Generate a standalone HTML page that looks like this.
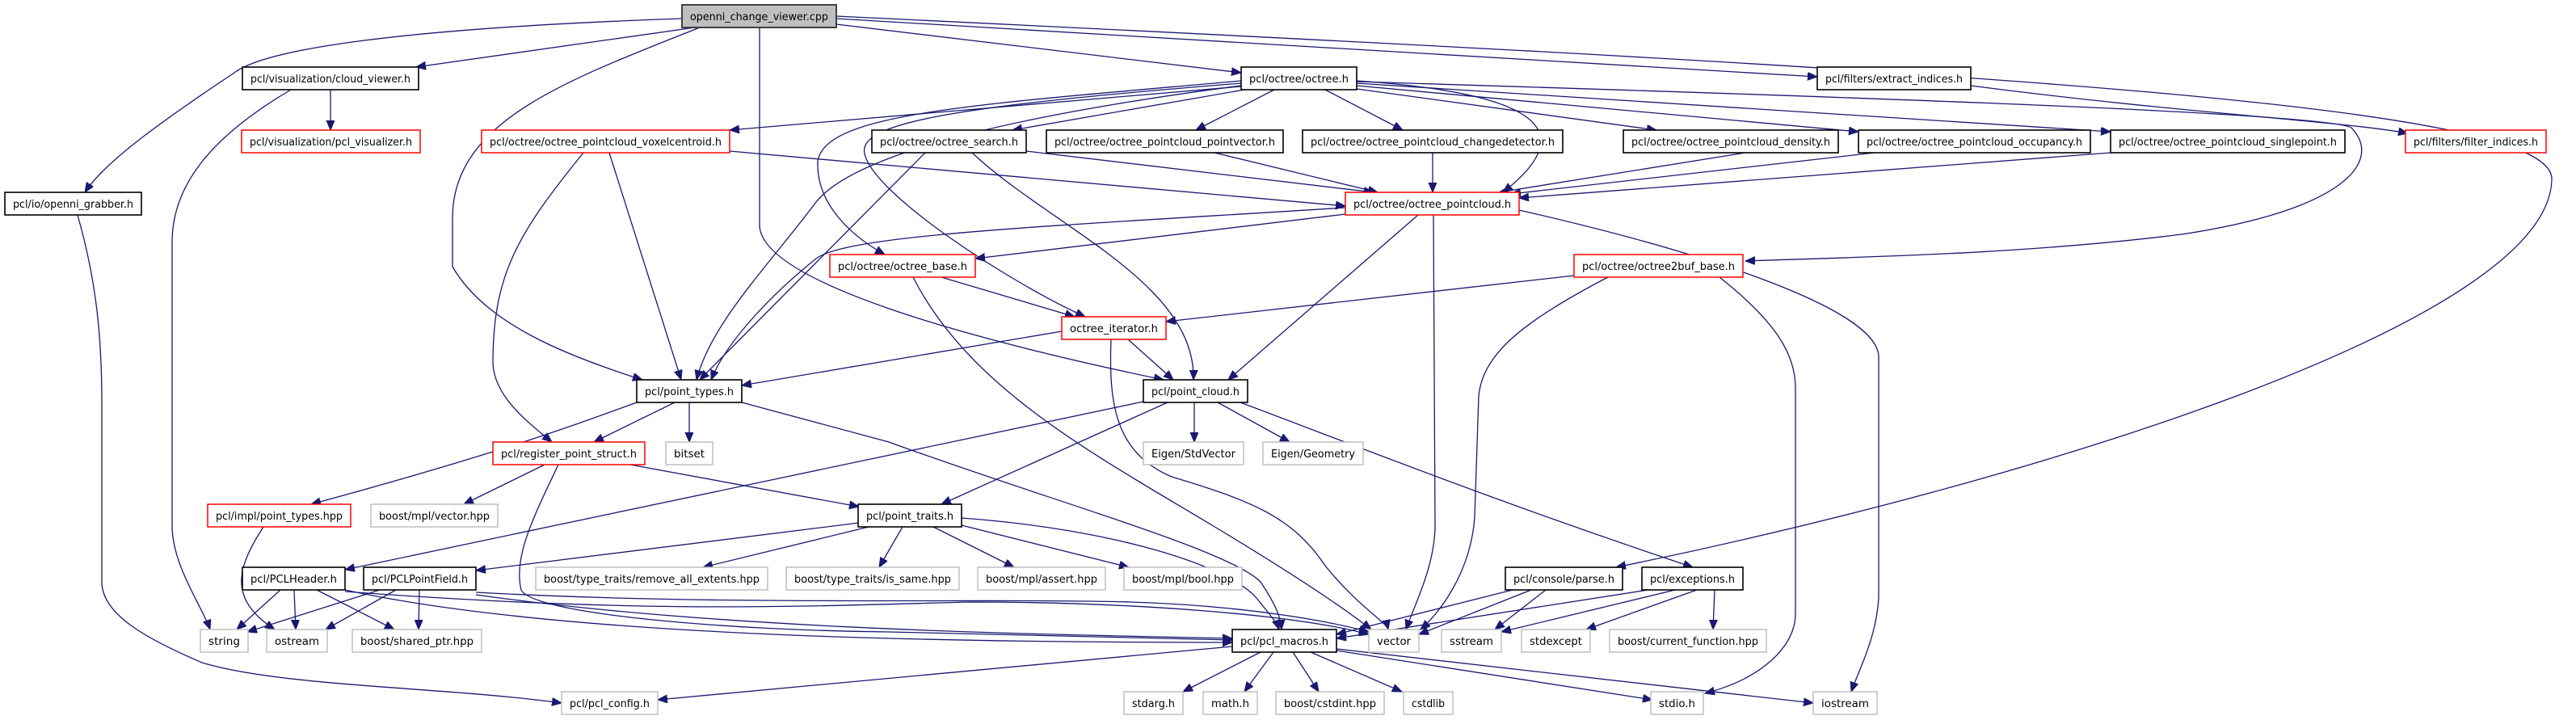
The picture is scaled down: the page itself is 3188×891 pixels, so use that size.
<!DOCTYPE html>
<html><head><meta charset="utf-8"><style>
html,body{margin:0;padding:0;background:#fff;}
svg{display:block;}
text{font-family:"DejaVu Sans","Liberation Sans",sans-serif;font-size:13.5px;fill:#000;}
.e{fill:none;stroke:#191970;stroke-width:1.3;marker-end:url(#a);}
.nb{fill:#fff;stroke:#000;stroke-width:1.6;}
.nr{fill:#fff;stroke:#ff0000;stroke-width:1.5;}
.ng{fill:#fff;stroke:#bfbfbf;stroke-width:1.5;}
</style></head><body>
<svg width="3188" height="891" viewBox="0 0 3188 891" xmlns="http://www.w3.org/2000/svg">
<defs><marker id="a" markerUnits="userSpaceOnUse" markerWidth="14" markerHeight="12" refX="12" refY="5" orient="auto"><path d="M0,0 L12,5 L0,10 z" fill="#191970" stroke="#191970"/></marker></defs>
<g>
<path class="e" d="M860,34 L515,83"/>
<path class="e" d="M844,23 C500,35 330,60 290,90 C200,150 130,200 105,238"/>
<path class="e" d="M866,34 C700,100 560,150 560,270 L560,330 C600,400 700,440 795,470"/>
<path class="e" d="M940,34 L940,280 C945,350 1200,420 1440,470"/>
<path class="e" d="M1035,30 L1536,90"/>
<path class="e" d="M1035,23 L2249,95"/>
<path class="e" d="M1035,20 C2500,90 3150,130 3158,220 C3160,400 2500,600 2000,702"/>
<path class="e" d="M2439,106 C2700,140 2900,150 2980,165"/>
<path class="e" d="M409,111 L409,161"/>
<path class="e" d="M360,111 C260,170 213,230 213,300 L213,650 C213,700 250,750 260,779"/>
<path class="e" d="M96,266 C120,350 126,420 126,500 L126,720 C126,760 180,790 250,820 C350,850 550,850 695,870"/>
<path class="e" d="M754,189 L843,470"/>
<path class="e" d="M722,189 C640,290 610,340 610,450 C612,490 650,520 683,547"/>
<path class="e" d="M903,187 L1665,255"/>
<path class="e" d="M1536,107 L903,161"/>
<path class="e" d="M1540,111 L1253,161"/>
<path class="e" d="M1577,111 L1480,161"/>
<path class="e" d="M1640,111 L1736,161"/>
<path class="e" d="M1679,110 L2050,161"/>
<path class="e" d="M1679,106 L2300,163"/>
<path class="e" d="M1679,103 L2612,163"/>
<path class="e" d="M1679,100 C1900,115 1960,160 1860,238"/>
<path class="e" d="M1679,101 C2300,120 2880,140 2910,158 C2950,200 2900,260 2700,290 C2500,315 2300,318 2160,323"/>
<path class="e" d="M1536,100 C1200,130 1020,140 1012,200 C1010,250 1050,290 1095,315"/>
<path class="e" d="M1536,103 C1200,130 1060,150 1070,190 C1080,240 1250,350 1343,392"/>
<path class="e" d="M1536,106 C1200,150 1050,200 1010,250 C950,330 880,400 862,470"/>
<path class="e" d="M1145,189 L866,470"/>
<path class="e" d="M1203,189 C1300,280 1480,350 1477,470"/>
<path class="e" d="M1270,187 L1700,238"/>
<path class="e" d="M1503,189 L1705,238"/>
<path class="e" d="M1773,189 L1773,238"/>
<path class="e" d="M2160,189 L1855,238"/>
<path class="e" d="M2320,189 L1870,240"/>
<path class="e" d="M2612,189 L1880,245"/>
<path class="e" d="M1665,257 C1300,280 1050,290 1010,320 C960,360 900,420 880,470"/>
<path class="e" d="M1665,265 L1207,320"/>
<path class="e" d="M1755,266 L1520,470"/>
<path class="e" d="M1774,266 L1776,650 C1776,700 1750,750 1740,779"/>
<path class="e" d="M1880,260 C2100,310 2320,380 2325,440 L2325,740 C2322,790 2300,830 2291,856"/>
<path class="e" d="M1165,343 L1330,392"/>
<path class="e" d="M1130,343 C1200,480 1350,560 1500,650 C1600,710 1660,750 1697,779"/>
<path class="e" d="M1948,341 L1443,398"/>
<path class="e" d="M1990,343 C1880,400 1835,440 1830,490 L1825,640 C1820,710 1780,760 1758,779"/>
<path class="e" d="M2128,343 C2200,400 2222,440 2222,480 L2222,760 C2222,800 2180,840 2110,858"/>
<path class="e" d="M1314,410 L918,477"/>
<path class="e" d="M1396,420 L1452,470"/>
<path class="e" d="M1375,420 C1372,500 1380,560 1450,590 C1550,620 1600,640 1640,700 C1680,750 1716,770 1718,779"/>
<path class="e" d="M835,498 L735,547"/>
<path class="e" d="M853,498 L853,547"/>
<path class="e" d="M788,498 C700,530 620,560 385,624"/>
<path class="e" d="M918,498 L1100,547 C1300,620 1520,680 1560,720 C1580,750 1585,765 1586,779"/>
<path class="e" d="M1415,497 L427,705"/>
<path class="e" d="M1445,498 L1165,624"/>
<path class="e" d="M1478,498 L1478,547"/>
<path class="e" d="M1507,498 L1596,547"/>
<path class="e" d="M1535,498 C1700,560 1850,620 2095,702"/>
<path class="e" d="M780,575 L1063,627"/>
<path class="e" d="M674,575 L574,624"/>
<path class="e" d="M691,575 C660,640 635,690 645,730 C660,760 900,780 1100,782 C1300,786 1450,790 1525,792"/>
<path class="e" d="M326,652 C295,700 280,740 340,779"/>
<path class="e" d="M1063,647 L589,706"/>
<path class="e" d="M1075,652 L870,702"/>
<path class="e" d="M1117,652 L1088,702"/>
<path class="e" d="M1155,652 L1255,702"/>
<path class="e" d="M1190,650 L1397,702"/>
<path class="e" d="M1190,641 C1380,655 1520,700 1555,740 C1575,765 1580,770 1583,779"/>
<path class="e" d="M347,730 L293,779"/>
<path class="e" d="M364,730 L366,779"/>
<path class="e" d="M392,730 L488,779"/>
<path class="e" d="M427,730 C700,790 1200,795 1525,795"/>
<path class="e" d="M427,732 C800,760 1000,750 1200,745 C1400,745 1600,760 1694,785"/>
<path class="e" d="M470,730 L306,782"/>
<path class="e" d="M490,730 L403,779"/>
<path class="e" d="M519,730 L518,779"/>
<path class="e" d="M589,736 C900,780 1300,785 1525,790"/>
<path class="e" d="M589,733 C900,750 1200,740 1400,745 C1550,750 1650,770 1694,782"/>
<path class="e" d="M1872,730 L1654,785"/>
<path class="e" d="M1895,730 L1756,785"/>
<path class="e" d="M1913,730 L1850,779"/>
<path class="e" d="M2040,730 L1654,790"/>
<path class="e" d="M2073,730 L1858,782"/>
<path class="e" d="M2100,730 L1963,779"/>
<path class="e" d="M2122,730 L2120,779"/>
<path class="e" d="M1560,807 L1464,856"/>
<path class="e" d="M1576,807 L1540,856"/>
<path class="e" d="M1600,807 L1632,856"/>
<path class="e" d="M1622,807 L1735,856"/>
<path class="e" d="M1654,805 L2045,866"/>
<path class="e" d="M1654,803 L2244,870"/>
<path class="e" d="M1525,800 L814,866"/>
</g>
<g>
<rect x="844" y="6" width="191" height="28" fill="#bfbfbf" stroke="#404040" stroke-width="2"/><text x="939.5" y="25" text-anchor="middle" textLength="171" lengthAdjust="spacingAndGlyphs">openni_change_viewer.cpp</text>
<rect class="nb" x="300" y="83" width="218" height="28"/><text x="409" y="102" text-anchor="middle" textLength="198" lengthAdjust="spacingAndGlyphs">pcl/visualization/cloud_viewer.h</text>
<rect class="nr" x="299" y="161" width="221" height="28"/><text x="409.5" y="180" text-anchor="middle" textLength="201" lengthAdjust="spacingAndGlyphs">pcl/visualization/pcl_visualizer.h</text>
<rect class="nr" x="596" y="161" width="307" height="28"/><text x="749.5" y="180" text-anchor="middle" textLength="287" lengthAdjust="spacingAndGlyphs">pcl/octree/octree_pointcloud_voxelcentroid.h</text>
<rect class="nb" x="6" y="238" width="169" height="28"/><text x="90.5" y="257" text-anchor="middle" textLength="149" lengthAdjust="spacingAndGlyphs">pcl/io/openni_grabber.h</text>
<rect class="nb" x="1536" y="83" width="143" height="28"/><text x="1607.5" y="102" text-anchor="middle" textLength="123" lengthAdjust="spacingAndGlyphs">pcl/octree/octree.h</text>
<rect class="nb" x="2249" y="83" width="190" height="28"/><text x="2344" y="102" text-anchor="middle" textLength="170" lengthAdjust="spacingAndGlyphs">pcl/filters/extract_indices.h</text>
<rect class="nb" x="1079" y="161" width="191" height="28"/><text x="1174.5" y="180" text-anchor="middle" textLength="171" lengthAdjust="spacingAndGlyphs">pcl/octree/octree_search.h</text>
<rect class="nb" x="1295" y="161" width="293" height="28"/><text x="1441.5" y="180" text-anchor="middle" textLength="273" lengthAdjust="spacingAndGlyphs">pcl/octree/octree_pointcloud_pointvector.h</text>
<rect class="nb" x="1612" y="161" width="322" height="28"/><text x="1773" y="180" text-anchor="middle" textLength="302" lengthAdjust="spacingAndGlyphs">pcl/octree/octree_pointcloud_changedetector.h</text>
<rect class="nb" x="2009" y="161" width="266" height="28"/><text x="2142" y="180" text-anchor="middle" textLength="246" lengthAdjust="spacingAndGlyphs">pcl/octree/octree_pointcloud_density.h</text>
<rect class="nb" x="2300" y="161" width="287" height="28"/><text x="2443.5" y="180" text-anchor="middle" textLength="267" lengthAdjust="spacingAndGlyphs">pcl/octree/octree_pointcloud_occupancy.h</text>
<rect class="nb" x="2612" y="161" width="290" height="28"/><text x="2757" y="180" text-anchor="middle" textLength="270" lengthAdjust="spacingAndGlyphs">pcl/octree/octree_pointcloud_singlepoint.h</text>
<rect class="nr" x="2977" y="161" width="174" height="28"/><text x="3064" y="180" text-anchor="middle" textLength="154" lengthAdjust="spacingAndGlyphs">pcl/filters/filter_indices.h</text>
<rect class="nr" x="1665" y="238" width="215" height="28"/><text x="1772.5" y="257" text-anchor="middle" textLength="195" lengthAdjust="spacingAndGlyphs">pcl/octree/octree_pointcloud.h</text>
<rect class="nr" x="1027" y="315" width="180" height="28"/><text x="1117" y="334" text-anchor="middle" textLength="160" lengthAdjust="spacingAndGlyphs">pcl/octree/octree_base.h</text>
<rect class="nr" x="1948" y="315" width="209" height="28"/><text x="2052.5" y="334" text-anchor="middle" textLength="189" lengthAdjust="spacingAndGlyphs">pcl/octree/octree2buf_base.h</text>
<rect class="nr" x="1314" y="392" width="129" height="28"/><text x="1378.5" y="411" text-anchor="middle" textLength="109" lengthAdjust="spacingAndGlyphs">octree_iterator.h</text>
<rect class="nb" x="788" y="470" width="130" height="28"/><text x="853" y="489" text-anchor="middle" textLength="110" lengthAdjust="spacingAndGlyphs">pcl/point_types.h</text>
<rect class="nb" x="1415" y="470" width="129" height="28"/><text x="1479.5" y="489" text-anchor="middle" textLength="109" lengthAdjust="spacingAndGlyphs">pcl/point_cloud.h</text>
<rect class="nr" x="610" y="547" width="188" height="28"/><text x="704" y="566" text-anchor="middle" textLength="168" lengthAdjust="spacingAndGlyphs">pcl/register_point_struct.h</text>
<rect class="ng" x="824" y="547" width="58" height="28"/><text x="853" y="566" text-anchor="middle" textLength="38" lengthAdjust="spacingAndGlyphs">bitset</text>
<rect class="ng" x="1415" y="547" width="124" height="28"/><text x="1477" y="566" text-anchor="middle" textLength="104" lengthAdjust="spacingAndGlyphs">Eigen/StdVector</text>
<rect class="ng" x="1563" y="547" width="124" height="28"/><text x="1625" y="566" text-anchor="middle" textLength="104" lengthAdjust="spacingAndGlyphs">Eigen/Geometry</text>
<rect class="nr" x="257" y="624" width="177" height="28"/><text x="345.5" y="643" text-anchor="middle" textLength="157" lengthAdjust="spacingAndGlyphs">pcl/impl/point_types.hpp</text>
<rect class="ng" x="459" y="624" width="157" height="28"/><text x="537.5" y="643" text-anchor="middle" textLength="137" lengthAdjust="spacingAndGlyphs">boost/mpl/vector.hpp</text>
<rect class="nb" x="1062" y="624" width="128" height="28"/><text x="1126" y="643" text-anchor="middle" textLength="108" lengthAdjust="spacingAndGlyphs">pcl/point_traits.h</text>
<rect class="nb" x="300" y="702" width="127" height="28"/><text x="363.5" y="721" text-anchor="middle" textLength="107" lengthAdjust="spacingAndGlyphs">pcl/PCLHeader.h</text>
<rect class="nb" x="450" y="702" width="139" height="28"/><text x="519.5" y="721" text-anchor="middle" textLength="119" lengthAdjust="spacingAndGlyphs">pcl/PCLPointField.h</text>
<rect class="ng" x="663" y="702" width="287" height="28"/><text x="806.5" y="721" text-anchor="middle" textLength="267" lengthAdjust="spacingAndGlyphs">boost/type_traits/remove_all_extents.hpp</text>
<rect class="ng" x="973" y="702" width="214" height="28"/><text x="1080" y="721" text-anchor="middle" textLength="194" lengthAdjust="spacingAndGlyphs">boost/type_traits/is_same.hpp</text>
<rect class="ng" x="1210" y="702" width="158" height="28"/><text x="1289" y="721" text-anchor="middle" textLength="138" lengthAdjust="spacingAndGlyphs">boost/mpl/assert.hpp</text>
<rect class="ng" x="1391" y="702" width="146" height="28"/><text x="1464" y="721" text-anchor="middle" textLength="126" lengthAdjust="spacingAndGlyphs">boost/mpl/bool.hpp</text>
<rect class="nb" x="1863" y="702" width="145" height="28"/><text x="1935.5" y="721" text-anchor="middle" textLength="125" lengthAdjust="spacingAndGlyphs">pcl/console/parse.h</text>
<rect class="nb" x="2032" y="702" width="125" height="28"/><text x="2094.5" y="721" text-anchor="middle" textLength="105" lengthAdjust="spacingAndGlyphs">pcl/exceptions.h</text>
<rect class="ng" x="248" y="779" width="59" height="28"/><text x="277.5" y="798" text-anchor="middle" textLength="39" lengthAdjust="spacingAndGlyphs">string</text>
<rect class="ng" x="330" y="779" width="75" height="28"/><text x="367.5" y="798" text-anchor="middle" textLength="55" lengthAdjust="spacingAndGlyphs">ostream</text>
<rect class="ng" x="436" y="779" width="160" height="28"/><text x="516" y="798" text-anchor="middle" textLength="140" lengthAdjust="spacingAndGlyphs">boost/shared_ptr.hpp</text>
<rect class="nb" x="1525" y="779" width="129" height="28"/><text x="1589.5" y="798" text-anchor="middle" textLength="109" lengthAdjust="spacingAndGlyphs">pcl/pcl_macros.h</text>
<rect class="ng" x="1694" y="779" width="62" height="28"/><text x="1725" y="798" text-anchor="middle" textLength="42" lengthAdjust="spacingAndGlyphs">vector</text>
<rect class="ng" x="1784" y="779" width="74" height="28"/><text x="1821" y="798" text-anchor="middle" textLength="54" lengthAdjust="spacingAndGlyphs">sstream</text>
<rect class="ng" x="1883" y="779" width="85" height="28"/><text x="1925.5" y="798" text-anchor="middle" textLength="65" lengthAdjust="spacingAndGlyphs">stdexcept</text>
<rect class="ng" x="1992" y="779" width="194" height="28"/><text x="2089" y="798" text-anchor="middle" textLength="174" lengthAdjust="spacingAndGlyphs">boost/current_function.hpp</text>
<rect class="ng" x="695" y="856" width="119" height="28"/><text x="754.5" y="875" text-anchor="middle" textLength="99" lengthAdjust="spacingAndGlyphs">pcl/pcl_config.h</text>
<rect class="ng" x="1391" y="856" width="73" height="28"/><text x="1427.5" y="875" text-anchor="middle" textLength="53" lengthAdjust="spacingAndGlyphs">stdarg.h</text>
<rect class="ng" x="1489" y="856" width="67" height="28"/><text x="1522.5" y="875" text-anchor="middle" textLength="47" lengthAdjust="spacingAndGlyphs">math.h</text>
<rect class="ng" x="1579" y="856" width="134" height="28"/><text x="1646" y="875" text-anchor="middle" textLength="114" lengthAdjust="spacingAndGlyphs">boost/cstdint.hpp</text>
<rect class="ng" x="1737" y="856" width="61" height="28"/><text x="1767.5" y="875" text-anchor="middle" textLength="41" lengthAdjust="spacingAndGlyphs">cstdlib</text>
<rect class="ng" x="2043" y="856" width="65" height="28"/><text x="2075.5" y="875" text-anchor="middle" textLength="45" lengthAdjust="spacingAndGlyphs">stdio.h</text>
<rect class="ng" x="2244" y="856" width="79" height="28"/><text x="2283.5" y="875" text-anchor="middle" textLength="59" lengthAdjust="spacingAndGlyphs">iostream</text>
</g>
</svg>
</body></html>
